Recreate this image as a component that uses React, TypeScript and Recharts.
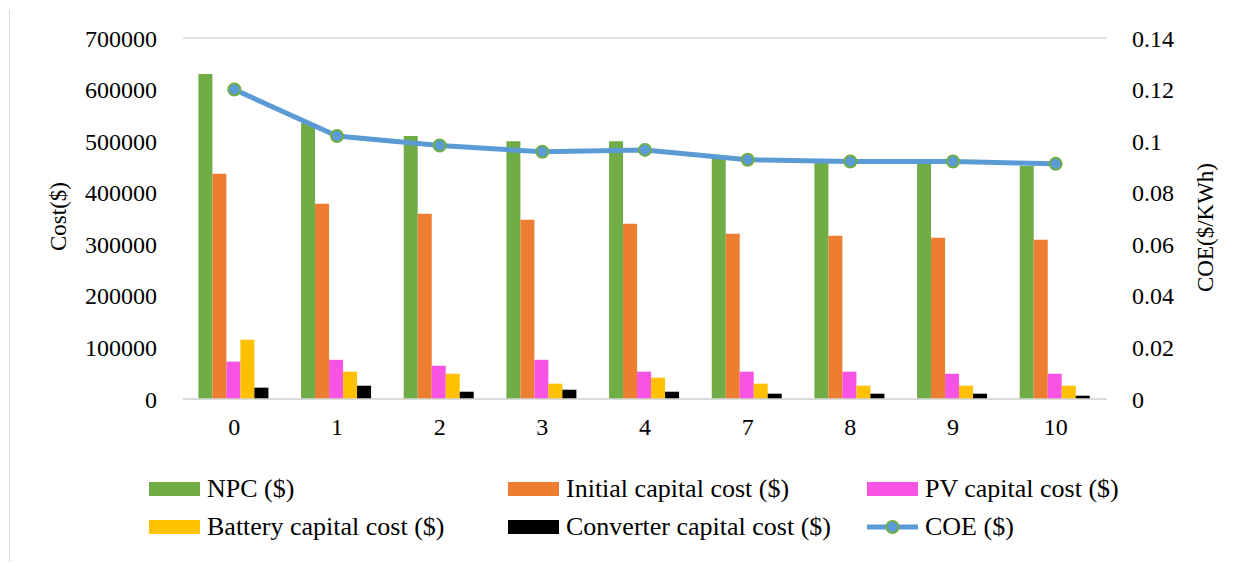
import React from 'react';
import { ComposedChart, Bar, Line, XAxis, YAxis, CartesianGrid } from 'recharts';

const categories = ['0', '1', '2', '3', '4', '7', '8', '9', '10'];
const npc = [630000, 535000, 510000, 500000, 500000, 470000, 458000, 456000, 452000];
const initialCapital = [437000, 378500, 359000, 347500, 340000, 320500, 316500, 312500, 309000];
const pvCapital = [72500, 76000, 64500, 76000, 53000, 53000, 53000, 49000, 49000];
const batteryCapital = [115000, 53000, 49000, 29700, 41300, 29700, 25800, 25800, 25800];
const converterCapital = [22000, 25800, 14100, 18000, 14100, 10300, 10300, 10300, 6400];
const coe = [0.12, 0.102, 0.0983, 0.0959, 0.0966, 0.0928, 0.0921, 0.0921, 0.0912];
const leftTicks = [0, 100000, 200000, 300000, 400000, 500000, 600000, 700000];
const rightTicks = [0, 0.02, 0.04, 0.06, 0.08, 0.1, 0.12, 0.14];

const data = categories.map((c, i) => ({
  cat: c,
  npc: npc[i],
  initial: initialCapital[i],
  pv: pvCapital[i],
  battery: batteryCapital[i],
  converter: converterCapital[i],
  coe: coe[i],
}));

const FONT = '"Liberation Serif", "Times New Roman", serif';
const tickStyle = { fill: '#000', fontSize: 24, fontFamily: FONT };

const legendItems = [
  { label: 'NPC ($)', color: '#70AD47', type: 'bar', x: 149, y: 489 },
  { label: 'Initial capital cost ($)', color: '#ED7D31', type: 'bar', x: 508, y: 489 },
  { label: 'PV capital cost ($)', color: '#F754E4', type: 'bar', x: 867, y: 489 },
  { label: 'Battery capital cost ($)', color: '#FFC000', type: 'bar', x: 149, y: 527 },
  { label: 'Converter capital cost ($)', color: '#000000', type: 'bar', x: 508, y: 527 },
  { label: 'COE ($)', color: '#5B9BD5', type: 'line', x: 867, y: 527 },
];

const LeftLabel = (props: any) => {
  const { viewBox } = props;
  const cx = viewBox.x + 58;
  const cy = viewBox.y + viewBox.height / 2 - 2;
  return (
    <text x={cx} y={cy} transform={`rotate(-90 ${cx} ${cy})`} textAnchor="middle" dominantBaseline="central"
      style={{ fontFamily: FONT, fontSize: 23, fill: '#000' }}>Cost($)</text>
  );
};

const RightLabel = (props: any) => {
  const { viewBox } = props;
  const cx = viewBox.x + 98;
  const cy = viewBox.y + viewBox.height / 2 + 9;
  return (
    <text x={cx} y={cy} transform={`rotate(-90 ${cx} ${cy})`} textAnchor="middle" dominantBaseline="central"
      style={{ fontFamily: FONT, fontSize: 23, fill: '#000' }}>COE($/KWh)</text>
  );
};

export default function App() {
  return (
    <div style={{ position: 'absolute', left: 0, top: 0, width: 1246, height: 566, background: '#fff', fontFamily: FONT }}>
      <div style={{ position: 'absolute', left: 9, top: 10, width: 0, height: 552, borderLeft: '1px solid #D9D9D9' }} />
      <ComposedChart
        width={1246}
        height={566}
        data={data}
        margin={{ top: 38, right: 0, bottom: 137, left: 0 }}
        barCategoryGap="15%"
        barGap={0}
      >
        <CartesianGrid vertical={false} stroke="#D9D9D9" strokeWidth={1.5} />
        <XAxis dataKey="cat" axisLine={{ stroke: '#D9D9D9', strokeWidth: 1.5 }} tickLine={false} tick={tickStyle}
          height={30} tickMargin={13} />
        <YAxis yAxisId="left" orientation="left" width={183} domain={[0, 700000]} ticks={leftTicks}
          axisLine={false} tickLine={false} tick={tickStyle} tickMargin={20} interval={0}
          label={{ content: LeftLabel }} />
        <YAxis yAxisId="right" orientation="right" width={139} domain={[0, 0.14]} ticks={rightTicks}
          axisLine={false} tickLine={false} tick={tickStyle} tickMargin={19} interval={0}
          label={{ content: RightLabel }} />
        <Bar yAxisId="left" dataKey="npc" fill="#70AD47" isAnimationActive={false} />
        <Bar yAxisId="left" dataKey="initial" fill="#ED7D31" isAnimationActive={false} />
        <Bar yAxisId="left" dataKey="pv" fill="#F754E4" isAnimationActive={false} />
        <Bar yAxisId="left" dataKey="battery" fill="#FFC000" isAnimationActive={false} />
        <Bar yAxisId="left" dataKey="converter" fill="#000000" isAnimationActive={false} />
        <Line yAxisId="right" dataKey="coe" type="linear" stroke="#5B9BD5" strokeWidth={5}
          dot={{ r: 6, fill: '#5B9BD5', stroke: '#70AD47', strokeWidth: 2 }} activeDot={false}
          isAnimationActive={false} />
      </ComposedChart>
      {legendItems.map((it) => (
        <div key={it.label} style={{ position: 'absolute', left: it.x, top: it.y - 16, height: 32, display: 'flex', alignItems: 'center' }}>
          {it.type === 'bar' ? (
            <div style={{ width: 51, height: 14, background: it.color }} />
          ) : (
            <svg width={51} height={16}>
              <line x1={0} y1={8} x2={51} y2={8} stroke={it.color} strokeWidth={5} />
              <circle cx={25.5} cy={8} r={6} fill={it.color} stroke="#70AD47" strokeWidth={2} />
            </svg>
          )}
          <span style={{ marginLeft: 7, fontSize: 26, lineHeight: '32px', color: '#000', fontFamily: FONT, whiteSpace: 'nowrap' }}>{it.label}</span>
        </div>
      ))}
    </div>
  );
}
